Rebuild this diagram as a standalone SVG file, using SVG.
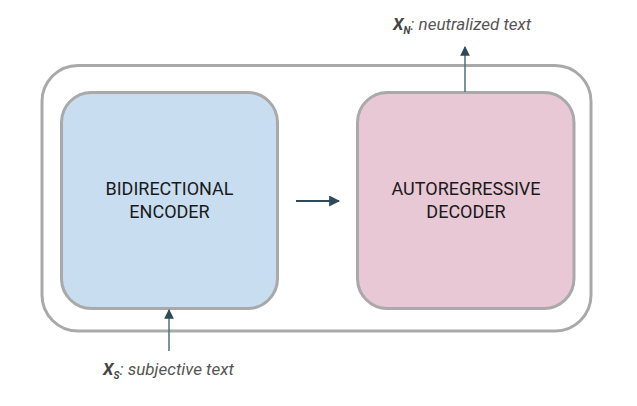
<svg xmlns="http://www.w3.org/2000/svg" width="637" height="406" viewBox="0 0 637 406">
<defs>
<style>
.box{stroke:#a9a9a9;stroke-width:3}
.lbl{font-family:Roboto,"Liberation Sans",sans-serif;font-size:18px;fill:#1a1a1a;text-anchor:middle}
.io{font-family:Roboto,"Liberation Sans",sans-serif;font-size:17px;fill:#555;font-style:italic}
.conn{stroke:#2c4a5a;stroke-width:2.2;fill:none}
.conn2{stroke:#4f6f7e;stroke-width:1.5;fill:none}
</style>
<marker id="ah" viewBox="0 0 10 10" refX="9" refY="5" markerWidth="5" markerHeight="5" markerUnits="strokeWidth" orient="auto"><path d="M0,0 L10,5 L0,10 z" fill="#2c4a5a"/></marker>
<marker id="ah2" viewBox="0 0 10 10" refX="9" refY="5" markerWidth="6.5" markerHeight="7" markerUnits="strokeWidth" orient="auto"><path d="M0,0 L10,5 L0,10 z" fill="#2c4a5a"/></marker>
</defs>
<rect width="637" height="406" fill="#fff"/>
<g id="container"><rect class="box" x="42" y="65.5" width="549" height="265.5" rx="36" fill="#fff"/></g>
<g id="encoder">
<rect class="box" x="61.5" y="92.5" width="216" height="216" rx="30" fill="#c9ddf0"/>
<text class="lbl" x="169.5" y="195">BIDIRECTIONAL</text>
<text class="lbl" x="169.5" y="218">ENCODER</text>
</g>
<g id="decoder">
<rect class="box" x="357.5" y="92.5" width="216.5" height="216" rx="30" fill="#e7c8d4"/>
<text class="lbl" x="466" y="195">AUTOREGRESSIVE</text>
<text class="lbl" x="466" y="218">DECODER</text>
</g>
<g id="input">
<text class="io" x="103" y="375"><tspan font-weight="bold" font-size="17" fill="#444">X</tspan><tspan font-weight="bold" font-size="10" dy="4" fill="#444">S</tspan><tspan dy="-4">: subjective text</tspan></text>
</g>
<g id="output">
<text class="io" x="393" y="30"><tspan font-weight="bold" font-size="17" fill="#444">X</tspan><tspan font-weight="bold" font-size="10" dy="4" fill="#444">N</tspan><tspan dy="-4">: neutralized text</tspan></text>
</g>
<g id="connectors">
<line class="conn" x1="296" y1="201" x2="339" y2="201" marker-end="url(#ah)"/>
<line class="conn2" x1="465" y1="92" x2="465" y2="47" marker-end="url(#ah2)"/>
<line class="conn2" x1="169" y1="351" x2="169" y2="310" marker-end="url(#ah2)"/>
</g>
</svg>
